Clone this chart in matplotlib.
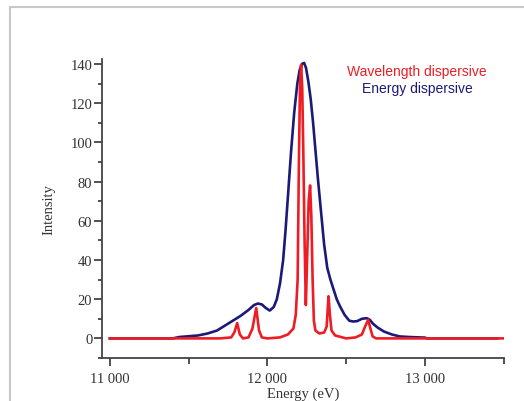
import numpy as np
import matplotlib.pyplot as plt
from matplotlib.patches import Rectangle
from matplotlib.ticker import MultipleLocator, FixedLocator

# wavelength dispersive spectrum (red)
e_wd = [11000, 11700, 11770, 11790, 11808, 11825, 11845, 11880, 11905, 11929,
        11947, 11965, 12000, 12080, 12130, 12165, 12180, 12192, 12200, 12207,
        12214, 12221, 12228, 12236, 12244, 12252, 12262, 12271, 12279, 12287,
        12295, 12305, 12330, 12360, 12376, 12388, 12397, 12407, 12430, 12500,
        12560, 12600, 12620, 12640, 12654, 12668, 12690, 13500]
i_wd = [0, 0, 0.5, 3, 7.8, 2, 0, 0.5, 5, 15.5,
        4, 0.5, 0, 0.5, 2, 5, 12, 30, 90, 130,
        139.5, 128, 95, 50, 17, 40, 70, 78, 62, 30,
        9, 4, 2.5, 3, 6, 21.5, 12, 4, 1.5, 0,
        0.5, 2, 6, 9.5, 5, 1, 0, 0]

# energy dispersive spectrum (blue)
e_ed = [11000, 11400, 11440, 11560, 11620, 11680, 11730, 11780, 11830, 11880,
        11915, 11940, 11965, 11990, 12015, 12040, 12060, 12080, 12100, 12115,
        12130, 12150, 12170, 12190, 12205, 12220, 12233, 12245, 12260, 12275,
        12290, 12305, 12320, 12340, 12360, 12380, 12400, 12420, 12440, 12460,
        12490, 12520, 12545, 12570, 12600, 12630, 12650, 12670, 12700, 12740,
        12790, 12840, 12900, 13000, 13013, 13460]
i_ed = [0, 0, 0.7, 1.5, 2.5, 4, 6.5, 9, 11.5, 14.5,
        17, 17.8, 17.3, 15.5, 14.2, 16, 20, 28, 40, 55,
        72, 95, 115, 130, 137, 140, 140.5, 138, 131, 122,
        110, 96, 82, 65, 48, 36, 30, 25, 20, 16.5,
        12, 9, 8.6, 8.8, 10, 10.3, 9.5, 7.5, 5.5, 3.5,
        2, 1, 0.7, 0.4, 0, 0]

x_ticks = [11000, 12000, 13000]
x_labels = ['11 000', '12 000', '13 000']

red = '#ee1c24'
navy = '#1c1a78'

fig = plt.figure(figsize=(5.24, 4.02), dpi=100)
fig.patches.append(Rectangle((10 / 524, -0.1), 1.2, 1.1 - 8 / 402,
                             transform=fig.transFigure, fill=False,
                             edgecolor='#c8c8c8', lw=1.5))

ax = fig.add_axes([102 / 524, 43 / 402, 402 / 524, 299 / 402])
ax.plot(e_ed, i_ed, color=navy, lw=1.9, solid_joinstyle='round')
ax.plot(e_wd, i_wd, color=red, lw=1.9, solid_joinstyle='round')

ax.set_xlim(10950, 13502)
ax.set_ylim(-10, 142.5)

for s in ['top', 'right']:
    ax.spines[s].set_visible(False)
for s in ['left', 'bottom']:
    ax.spines[s].set_color('#444444')
    ax.spines[s].set_linewidth(1.3)

ax.xaxis.set_major_locator(FixedLocator(x_ticks))
ax.set_xticklabels(x_labels)
ax.xaxis.set_minor_locator(FixedLocator([11500, 12500, 13500]))
ax.yaxis.set_major_locator(FixedLocator(range(0, 141, 20)))
ax.yaxis.set_minor_locator(MultipleLocator(10))
ax.tick_params(which='both', direction='out', color='#444444', width=1.3,
               labelsize=10.5, labelcolor='#333333', labelfontfamily='Liberation Serif')
ax.tick_params(which='major', length=6, pad=1)
ax.tick_params(axis='x', which='major', pad=4)
ax.tick_params(which='minor', length=4)
ax.tick_params(axis='y', which='minor', length=3)

ax.set_xlabel('Energy (eV)', family='Liberation Serif', fontsize=10.5,
              color='#333333', labelpad=1)
ax.set_ylabel('Intensity', family='Liberation Serif', fontsize=10.5,
              color='#333333', labelpad=11)

fig.text(417 / 524, 1 - 72 / 402, 'Wavelength dispersive', color=red,
         family='Liberation Sans', fontsize=10, ha='center', va='center')
fig.text(417 / 524, 1 - 89 / 402, 'Energy dispersive', color=navy,
         family='Liberation Sans', fontsize=10, ha='center', va='center')

plt.savefig('out.png', dpi=100)
